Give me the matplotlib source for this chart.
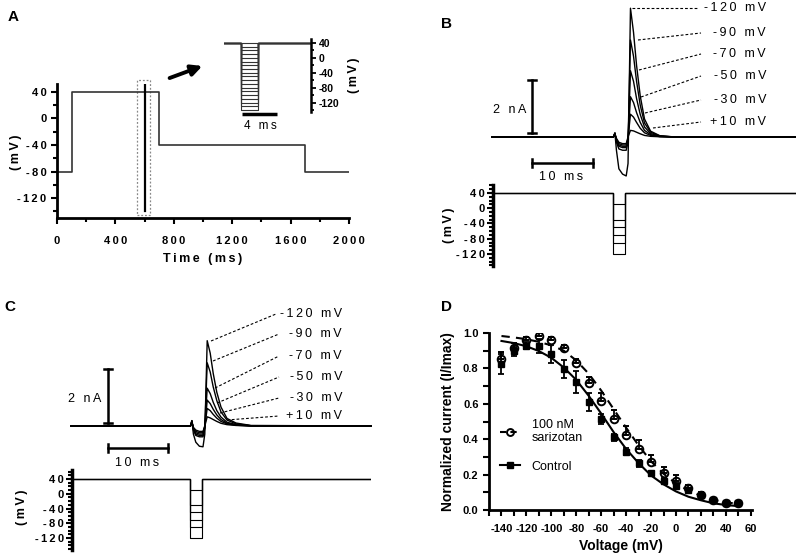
import matplotlib
matplotlib.use("Agg")
import matplotlib.pyplot as plt
from matplotlib.patches import Rectangle
from matplotlib.lines import Line2D
from matplotlib.ticker import MultipleLocator, FixedLocator, FuncFormatter

plt.rcParams['font.family'] = ['Liberation Sans', 'DejaVu Sans']
plt.rcParams['axes.unicode_minus'] = False

# ---- panel A: protocol (ms, mV)
a_time = [0, 100, 100, 700, 700, 1700, 1700, 2000]
a_volt = [-80, -80, 40, 40, -40, -40, -80, -80]
a_pulse_time = 600
a_pulse_range = [50, -140]
inset_steps = [40, 30, 20, 10, 0, -10, -20, -30, -40, -50, -60, -70, -80,
               -90, -100, -110, -120, -130, -140]

# ---- panels B, C: voltage steps and current traces (ms, nA)
step_labels = ["-120 mV", "-90 mV", "-70 mV", "-50 mV", "-30 mV", "+10 mV"]
step_volts = [-120, -90, -70, -50, -30, 10]
pulse_on, pulse_off = 19.85, 21.85
t_trace = [0, 19.9, 20.15, 20.4, 20.8, 21.4, 22.0, 22.3, 22.7, 23.2, 23.7,
           24.3, 25.0, 26.0, 27.5, 30.0, 50.0]
b_traces = [
    [0, 0, 0.15, -0.5, -1.2, -1.4, -1.47, -1.0, 4.86, 3.95, 2.7, 1.55, 0.68, 0.22, 0.05, 0, 0],
    [0, 0, 0.15, -0.2, -0.45, -0.5, -0.5, -0.2, 3.66, 3.05, 2.1, 1.2, 0.53, 0.18, 0.04, 0, 0],
    [0, 0, 0.15, -0.15, -0.35, -0.4, -0.4, -0.15, 2.5, 2.1, 1.45, 0.85, 0.38, 0.13, 0.03, 0, 0],
    [0, 0, 0.12, -0.1, -0.3, -0.35, -0.35, -0.1, 1.52, 1.3, 0.92, 0.55, 0.25, 0.09, 0.02, 0, 0],
    [0, 0, 0.12, -0.1, -0.25, -0.3, -0.3, -0.05, 0.86, 0.75, 0.55, 0.33, 0.16, 0.06, 0.015, 0, 0],
    [0, 0, 0.1, -0.05, -0.2, -0.25, -0.25, 0.0, 0.25, 0.23, 0.18, 0.12, 0.06, 0.025, 0.01, 0, 0],
]
c_traces = [
    [0, 0, 0.2, -0.3, -0.6, -0.75, -0.77, -0.3, 3.16, 2.7, 1.95, 1.25, 0.7, 0.28, 0.11, 0.02, 0],
    [0, 0, 0.2, -0.15, -0.35, -0.4, -0.4, -0.1, 2.34, 2.0, 1.45, 0.94, 0.52, 0.22, 0.08, 0.01, 0],
    [0, 0, 0.18, -0.1, -0.3, -0.35, -0.35, -0.05, 1.4, 1.2, 0.88, 0.57, 0.33, 0.14, 0.05, 0.01, 0],
    [0, 0, 0.15, -0.1, -0.25, -0.3, -0.3, -0.05, 0.96, 0.83, 0.62, 0.41, 0.24, 0.1, 0.04, 0.01, 0],
    [0, 0, 0.15, -0.08, -0.2, -0.25, -0.25, 0.0, 0.65, 0.57, 0.43, 0.29, 0.17, 0.08, 0.03, 0, 0],
    [0, 0, 0.12, -0.05, -0.15, -0.2, -0.2, 0.0, 0.34, 0.3, 0.24, 0.17, 0.1, 0.05, 0.02, 0, 0],
]

# ---- panel D: steady-state inactivation
d_volt = [-140, -130, -120, -110, -100, -90, -80, -70, -60, -50, -40, -30,
          -20, -10, 0, 10, 20, 30, 40, 50]
sar_mean = [0.853, 0.915, 0.96, 0.983, 0.96, 0.915, 0.83, 0.718, 0.616, 0.514,
            0.424, 0.345, 0.27, 0.21, 0.165, 0.124, 0.085, 0.056, 0.04, 0.04]
sar_err = [0.04, 0.03, 0.015, 0.02, 0.02, 0.02, 0.025, 0.035, 0.045, 0.05,
           0.05, 0.05, 0.04, 0.035, 0.03, 0.02, 0.015, 0.01, 0.01, 0.01]
ctl_mean = [0.825, 0.898, 0.927, 0.927, 0.881, 0.797, 0.723, 0.61, 0.514, 0.412,
            0.328, 0.265, 0.208, 0.165, 0.135, 0.113, 0.085, 0.056, 0.04, 0.04]
ctl_err = [0.055, 0.03, 0.02, 0.04, 0.05, 0.05, 0.06, 0.05, 0.03, 0.02,
           0.02, 0.02, 0.015, 0.015, 0.015, 0.01, 0.01, 0.01, 0.01, 0.01]
sar_fit = [0.983, 0.975, 0.965, 0.95, 0.93, 0.9, 0.845, 0.77, 0.675, 0.57,
           0.465, 0.365, 0.275, 0.205, 0.15, 0.11, 0.08, 0.058, 0.043, 0.035]
ctl_fit = [0.955, 0.943, 0.925, 0.898, 0.86, 0.805, 0.735, 0.645, 0.545, 0.44,
           0.345, 0.265, 0.195, 0.145, 0.105, 0.075, 0.055, 0.038, 0.028, 0.022]

W, H = 796, 554
fig = plt.figure(figsize=(W / 100, H / 100), dpi=100)


def sp(s):
    # the original typesetting is letter-spaced
    return '\u2009'.join(str(s))


int_fmt = FuncFormatter(lambda v, p: sp("%d" % round(v)))
plain_int = FuncFormatter(lambda v, p: "%d" % round(v))
dec_fmt = FuncFormatter(lambda v, p: "%.1f" % v)


def px_axes(x0, y0, x1, y1):
    return fig.add_axes([x0 / W, 1 - y1 / H, (x1 - x0) / W, (y1 - y0) / H])


def ftext(x, y, s, spaced=True, **kw):
    kw.setdefault('ha', 'center')
    kw.setdefault('va', 'center')
    fig.text(x / W, 1 - y / H, sp(s) if spaced else s, **kw)


def bold_ticks(ax):
    for lab in ax.get_xticklabels() + ax.get_yticklabels():
        lab.set_fontweight('bold')


# ================= A =================
axA = px_axes(57, 84, 349, 218)
axA.plot(a_time, a_volt, color='#333333', lw=1.2)
axA.plot([a_pulse_time, a_pulse_time], a_pulse_range, color='k', lw=1.6)
axA.add_patch(Rectangle((550, -145), 90, 203, fill=False, ls=(0, (1.5, 1.5)),
                        lw=0.9, ec='#888888', clip_on=False))
axA.set_xlim(0, 2000)
axA.set_ylim(-150, 52)
for s in ['top', 'right']:
    axA.spines[s].set_visible(False)
for s in ['left', 'bottom']:
    axA.spines[s].set_linewidth(2)
axA.set_xticks([0, 400, 800, 1200, 1600, 2000])
axA.xaxis.set_minor_locator(MultipleLocator(200))
axA.set_yticks([40, 0, -40, -80, -120])
axA.yaxis.set_minor_locator(FixedLocator([20, -20, -60, -100, -140]))
axA.xaxis.set_major_formatter(int_fmt)
axA.yaxis.set_major_formatter(int_fmt)
axA.tick_params(which='both', direction='out', width=1.5, labelsize=8)
axA.tick_params(which='major', length=4)
axA.tick_params(which='minor', length=3)
axA.tick_params(axis='x', pad=9)
bold_ticks(axA)
axA.set_xlabel(sp("Time (ms)"), fontsize=9, fontweight='bold', labelpad=5)
ftext(16, 152, "(mV)", fontsize=9, fontweight='bold', rotation=90)

# inset
axI = px_axes(224, 39, 311, 112)
for v in inset_steps:
    axI.plot([-3, 0, 0, 2, 2, 10], [40, 40, v, v, 40, 40], color='#333333',
             lw=0.8)
axI.set_xlim(-1.94, 8.0)
axI.set_ylim(-145.5, 50.8)
for s in ['top', 'left', 'bottom']:
    axI.spines[s].set_visible(False)
axI.spines['right'].set_linewidth(1.8)
axI.set_xticks([])
axI.yaxis.tick_right()
axI.yaxis.set_label_position('right')
axI.set_yticks([40, 0, -40, -80, -120])
axI.yaxis.set_minor_locator(FixedLocator([20, -20, -60, -100, -140]))
axI.yaxis.set_major_formatter(plain_int)
axI.tick_params(axis='y', which='both', direction='out', width=1.3,
                labelsize=7.5, pad=2)
axI.tick_params(axis='y', which='major', length=3.5)
axI.tick_params(axis='y', which='minor', length=2.5)
bold_ticks(axI)
axI.set_ylabel(sp("(mV)"), fontsize=9, fontweight='bold', labelpad=6)
axI.plot([0.1, 4.1], [-151, -151], color='k', lw=2.5, clip_on=False,
         solid_capstyle='butt')
ftext(260, 126, "4 ms", fontsize=8.5)
axA.annotate('', xy=(205 / W, 1 - 65 / H), xytext=(167 / W, 1 - 79 / H),
             xycoords='figure fraction', textcoords='figure fraction',
             arrowprops=dict(arrowstyle='-|>', lw=2.8, color='k',
                             mutation_scale=16))


# ================= B / C traces =================
def trace_panel(box, t0px, pxms, basepx, pxna, traces, label_pts, label_x,
                vbar_t, vbar_y, hbar_y, nA_pos, ms_pos):
    x0, y0, x1, y1 = box
    ax = px_axes(x0, y0, x1, y1)
    for tr in traces:
        ax.plot(t_trace, tr, color='k', lw=1.0)
    ax.set_xlim((x0 - t0px) / pxms, (x1 - t0px) / pxms)
    ax.set_ylim((basepx - y1) / pxna, (basepx - y0) / pxna)
    ax.axis('off')
    # label leader lines (pixel positions)
    for lab, (sx, sy, ex, ey) in zip(step_labels, label_pts):
        ax.plot([(sx - t0px) / pxms, (ex - t0px) / pxms],
                [(basepx - sy) / pxna, (basepx - ey) / pxna],
                color='k', lw=0.8, ls=(0, (2.5, 1.8)))
        ftext(label_x, ey, lab, fontsize=9, ha='right')
    # scale bars
    ax.plot([vbar_t, vbar_t], [vbar_y, vbar_y + 2], color='k', lw=1.8)
    for yy in (vbar_y, vbar_y + 2):
        ax.plot([vbar_t - 0.6, vbar_t + 0.6], [yy, yy], color='k', lw=1.8)
    ax.plot([vbar_t, vbar_t + 10], [hbar_y, hbar_y], color='k', lw=1.8)
    for tt in (vbar_t, vbar_t + 10):
        ax.plot([tt, tt], [hbar_y - 0.14, hbar_y + 0.14], color='k', lw=1.8)
    ftext(nA_pos[0], nA_pos[1], "2 nA", fontsize=9)
    ftext(ms_pos[0], ms_pos[1], "10 ms", fontsize=9)
    return ax


def volt_panel(box, t0px, pxms, ylim, ylab_x, ylab_y):
    x0, y0, x1, y1 = box
    ax = px_axes(x0, y0, x1, y1)
    for v in step_volts:
        ax.plot([0, pulse_on, pulse_on, pulse_off, pulse_off, 60],
                [40, 40, v, v, 40, 40], color='k', lw=0.8)
    ax.set_xlim((x0 - t0px) / pxms, (x1 - t0px) / pxms)
    ax.set_ylim(*ylim)
    ax.set_yticks([40, 0, -40, -80, -120])
    ax.yaxis.set_minor_locator(MultipleLocator(10))
    ax.yaxis.set_major_formatter(int_fmt)
    for s in ['top', 'right', 'bottom']:
        ax.spines[s].set_visible(False)
    ax.spines['left'].set_linewidth(2.5)
    ax.set_xticks([])
    ax.tick_params(axis='y', which='both', direction='out', width=1.5,
                   labelsize=8, pad=2)
    ax.tick_params(axis='y', which='major', length=4)
    ax.tick_params(axis='y', which='minor', length=3)
    bold_ticks(ax)
    ftext(ylab_x, ylab_y, "(mV)", fontsize=9, fontweight='bold', rotation=90)
    return ax


b_label_pts = [(632, 8, 698, 8), (638, 40, 701, 33), (639, 70, 701, 54),
               (641, 97, 701, 76), (645, 113, 701, 100), (653, 128, 701, 122)]
trace_panel((485, 0, 796, 185), 492, 6.1, 137, 26.5, b_traces, b_label_pts,
            766, 6.56, 0.15, -0.98, (510, 110), (561, 177))
volt_panel((493, 185, 796, 266), 492, 6.1, (-151.5, 61), 449, 225)

c_label_pts = [(211, 341, 276, 314), (213, 361, 279, 334), (215, 388, 279, 356),
               (217, 403, 279, 377), (220, 413, 279, 398), (227, 420, 279, 416)]
trace_panel((62, 290, 380, 470), 71, 6.0, 426, 27.0, c_traces, c_label_pts,
            342, 6.17, 0.11, -0.81, (85, 399), (137, 463))
volt_panel((72, 470, 371, 550), 71, 6.0, (-152.5, 64.4), 22, 507)

# ================= D =================
axD = px_axes(489, 333, 752, 510)
axD.plot(d_volt, ctl_fit, color='k', lw=1.5)
axD.plot(d_volt, sar_fit, color='k', lw=1.5, ls=(0, (4, 3)))
axD.errorbar(d_volt, ctl_mean, yerr=ctl_err, fmt='s', color='k', ms=5,
             capsize=2.5, elinewidth=1.3, capthick=1.3)
axD.errorbar(d_volt, sar_mean, yerr=[[0] * len(sar_err), sar_err], fmt='o',
             color='k', mfc='none', ms=5.5, mew=1.4, capsize=2.5,
             elinewidth=1.3, capthick=1.3)
axD.set_xlim(-150, 61)
axD.set_ylim(0, 1.0)
for s in ['top', 'right']:
    axD.spines[s].set_visible(False)
for s in ['left', 'bottom']:
    axD.spines[s].set_linewidth(2)
axD.set_xticks(range(-140, 61, 20))
axD.xaxis.set_minor_locator(MultipleLocator(10))
axD.set_yticks([0.0, 0.2, 0.4, 0.6, 0.8, 1.0])
axD.xaxis.set_major_formatter(plain_int)
axD.yaxis.set_major_formatter(dec_fmt)
axD.yaxis.set_minor_locator(MultipleLocator(0.1))
axD.tick_params(which='both', direction='out', width=1.5, labelsize=8,
                length=4)
axD.tick_params(axis='x', pad=6)
bold_ticks(axD)
axD.set_xlabel("Voltage (mV)", fontsize=10, fontweight='bold', labelpad=4)
axD.set_ylabel("Normalized current (I/Imax)", fontsize=10, fontweight='bold',
               labelpad=6)
h_sar = Line2D([], [], color='k', ls=(0, (3, 2)), lw=1.5, marker='o',
               mfc='none', ms=5, mew=1.4)
h_ctl = Line2D([], [], color='k', lw=1.5, marker='s', ms=5)
axD.legend([h_sar, h_ctl], ["100 nM\nsarizotan", "Control"],
           loc='upper left', bbox_to_anchor=(0.0, 0.58), frameon=False,
           fontsize=9, handlelength=1.6, labelspacing=1.3, handletextpad=0.9)

# panel letters
for lx, ly, s in [(13, 17, "A"), (447, 24, "B"), (10, 307, "C"), (447, 307, "D")]:
    ftext(lx, ly, s, fontsize=11, fontweight='bold')

fig.savefig("out.png", dpi=100)
